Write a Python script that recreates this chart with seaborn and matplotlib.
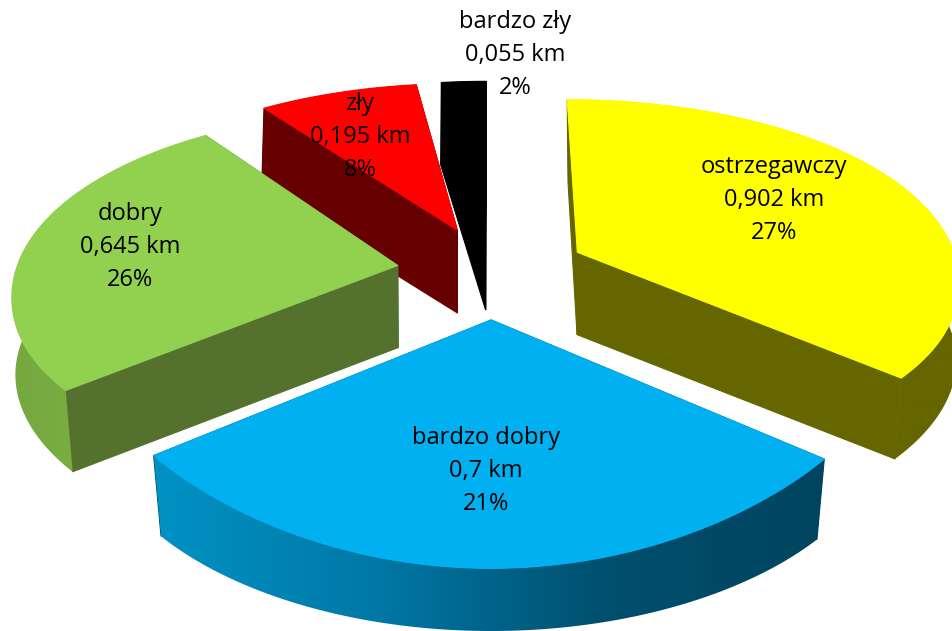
import numpy as np
import matplotlib
matplotlib.use("Agg")
import matplotlib.pyplot as plt
from matplotlib.patches import Polygon
import seaborn as sns

names = ["ostrzegawczy", "bardzo dobry", "dobry", "zły", "bardzo zły"]
km = [0.902, 0.7, 0.645, 0.195, 0.055]
pct = [27, 21, 26, 8, 2]

top_colors = ["#FFFF00", "#00B0F0", "#92D050", "#FF0000", "#000000"]
cut_colors = ["#666600", "#00445F", "#54722E", "#660000", "#000000"]
# left to right across each outer wall
rim_colors = [["#666600", "#666600"],
              ["#0092C4", "#0078A6", "#00506F", "#00445F"],
              ["#76A83F", "#7FB646"],
              ["#660000", "#660000"],
              ["#000000", "#000000"]]
label_xy = [(774, 200), (486, 471), (130, 247), (360, 137), (515, 55)]
draw_order = [4, 3, 2, 0, 1]

EXPLODE = 0.25
CX = 492
TOP = dict(a=382, px=0.137, p=0.175, q=1060, s0=-788.5, sag=60)
BOT = dict(a=380, px=0.12, p=0.15, q=1203, s0=-849.6, sag=0)


def project(x, y, cam):
    # perspective of the pie plane onto the picture (pixels, y down)
    x, y = np.asarray(x, float), np.asarray(y, float)
    u = np.clip(-y - 0.25, 0, 1)
    sx = CX + cam["a"] * x / (1 + cam["px"] * y)
    sy = cam["s0"] + cam["q"] / (1 + cam["p"] * y) - cam["sag"] * u ** 2 * (1 - u)
    return sx, sy


sns.set_theme(style="white")
plt.rcParams["font.family"] = ["Open Sans", "DejaVu Sans"]

fig = plt.figure(figsize=(9.52, 6.31), dpi=100)
ax = fig.add_axes([0, 0, 1, 1])
ax.axis("off")

shares = np.array(km) / np.sum(km)
edges = np.concatenate([[0], np.cumsum(shares)]) * 2 * np.pi

z = 1
for i in draw_order:
    start, end = edges[i], edges[i + 1]
    mid = (start + end) / 2
    ox, oy = EXPLODE * np.sin(mid), EXPLODE * np.cos(mid)
    th = np.linspace(start, end, max(4, int(np.degrees(end - start))) + 1)
    rx, ry = ox + np.sin(th), oy + np.cos(th)

    tx, ty = project(rx, ry, TOP)
    bx, by = project(rx, ry, BOT)
    atx, aty = project(ox, oy, TOP)
    abx, aby = project(ox, oy, BOT)

    # the two cut faces
    for k in (0, -1):
        ax.fill([atx, tx[k], bx[k], abx], [aty, ty[k], by[k], aby],
                color=cut_colors[i], lw=0.8, zorder=z)
    z += 1

    # outer wall: horizontal gradient clipped to the wall shape
    wall = np.c_[np.r_[tx, bx[::-1]], np.r_[ty, by[::-1]]]
    pal = np.array(sns.blend_palette(rim_colors[i], 256))[:, :3][None, :, :]
    im = ax.imshow(pal, aspect="auto", zorder=z,
                   extent=[wall[:, 0].min(), wall[:, 0].max(),
                           wall[:, 1].max(), wall[:, 1].min()])
    clip = Polygon(wall, closed=True, transform=ax.transData)
    im.set_clip_path(clip)
    z += 1

    ax.fill(np.r_[atx, tx], np.r_[aty, ty], color=top_colors[i], lw=0.8, zorder=z)
    z += 1

for i, name in enumerate(names):
    km_txt = f"{km[i]:g}".replace(".", ",")
    ax.text(*label_xy[i], f"{name}\n{km_txt} km\n{pct[i]}%",
            ha="center", va="center", fontsize=17, color="black",
            linespacing=1.5, zorder=50)

ax.set_xlim(0, 952)
ax.set_ylim(631, 0)

fig.savefig("out.png", dpi=100, facecolor="white")
plt.close(fig)
